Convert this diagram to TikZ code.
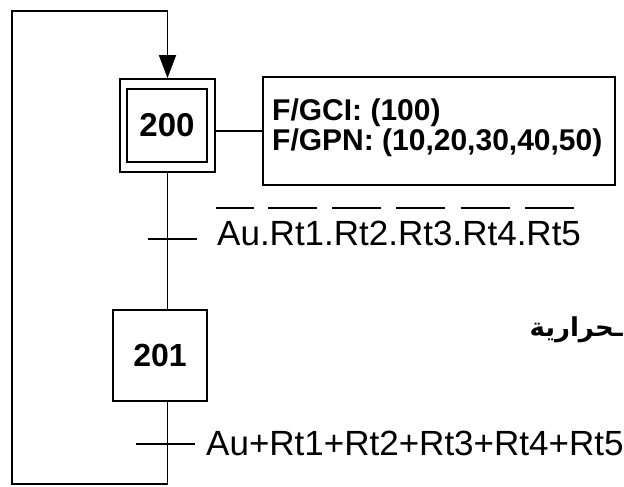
\documentclass[tikz,border=0pt]{standalone}
\usepackage{graphicx}
\usepackage{fontspec}
\setmainfont{Liberation Sans}
\newfontfamily\arabicfont[Script=Arabic]{DejaVu Sans}
\TeXXeTstate=1
\usetikzlibrary{arrows.meta}
\newcommand\nbar[1]{\setbox0\hbox{#1}\makebox[0pt][l]{\hspace*{-0.03\wd0}\raisebox{36pt}{\rule{0.9\wd0}{1.6pt}}}\box0}
\begin{document}
\begin{tikzpicture}[x=1pt,y=-1pt,
  ln/.style={line width=1.8pt},
  boxst/.style={draw,ln,inner sep=0pt},
  lbl/.style={inner sep=0pt, font=\fontsize{35}{35}\selectfont},
  acttx/.style={inner sep=0pt, anchor=base west, font=\bfseries\fontsize{30}{30}\selectfont}]
\useasboundingbox (0,0) rectangle (624,487);
% step 200 (initial, double box)
\node[boxst, minimum width=95pt, minimum height=93pt] (s200o) at (167.5,125.5) {};
\node[boxst, minimum width=80pt, minimum height=73pt, font=\bfseries\fontsize{33}{33}\selectfont] (s200) at (167,125.5) {200};
% action box
\node[boxst, minimum width=352pt, minimum height=108pt] (act) at (439,131) {};
\node[acttx] (acta) at (272,121) {F/GCI: (100)};
\node[acttx] (actb) at (272,150) {F/GPN: (10,20,30,40,50)};
\draw[ln] (act.west) -- (act.west -| s200o.east);
% step 201
\node[boxst, minimum width=94pt, minimum height=91pt, font=\bfseries\fontsize{32}{32}\selectfont] (s201) at (160,355.5) {201};
% main line
\draw[ln] (s200o.south) -- (s200o.south |- s201.north);
% loop back
\coordinate (bl) at (12,484);
\coordinate (tl) at (12,11);
\draw[ln, -{Triangle[length=23pt,width=17pt]}] (s201.south -| s200o.south) |- (bl) -- (tl) -| (s200o.north);
% transitions
\coordinate (t1a) at (148,239);
\coordinate (t1b) at (197,239);
\draw[ln] (t1a) -- (t1b);
\node[lbl, anchor=base west] (c1) at (217,245) {\nbar{Au}.\nbar{Rt1}.\nbar{Rt2}.\nbar{Rt3}.\nbar{Rt4}.\nbar{Rt5}};
\coordinate (t2a) at (136,444);
\coordinate (t2b) at (195,444);
\draw[ln] (t2a) -- (t2b);
\node[lbl, anchor=base west] (c2) at (206,455) {Au+Rt1+Rt2+Rt3+Rt4+Rt5};
% arabic text
\node[inner sep=0pt, anchor=base east, font=\arabicfont\bfseries\fontsize{26}{26}\selectfont] (ar) at (623,336) {\beginR ـحرارية\endR};
\end{tikzpicture}
\end{document}
